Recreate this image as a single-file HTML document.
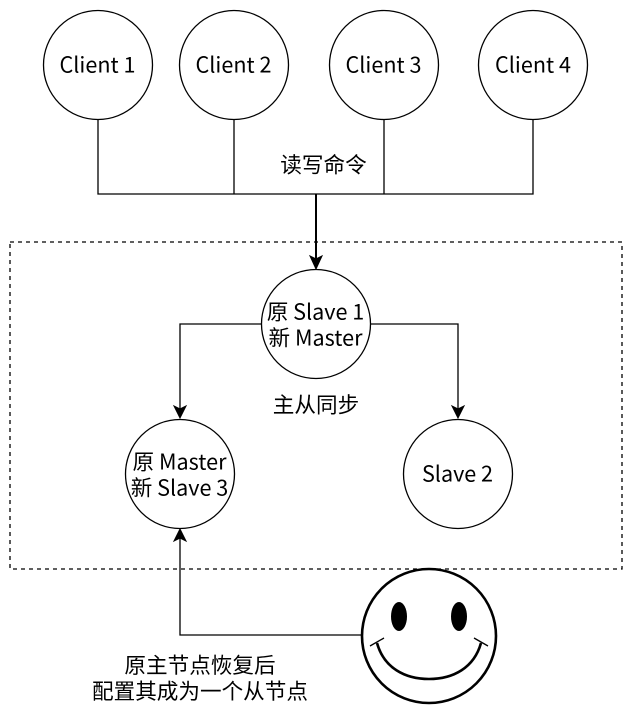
<!DOCTYPE html>
<html>
<head>
<meta charset="utf-8">
<style>
html,body{margin:0;padding:0;background:#fff;width:636px;height:714px;overflow:hidden}
svg{display:block}
text{font-family:"Noto Sans CJK SC","Liberation Sans",sans-serif;font-size:21.6px;fill:#000;text-anchor:middle}
</style>
</head>
<body>
<svg width="636" height="714" viewBox="0 0 636 714" xmlns="http://www.w3.org/2000/svg">
<rect x="10" y="242" width="612" height="327" fill="#fff" stroke="#000" stroke-width="1.3" stroke-dasharray="4 4"/>
<g fill="none" stroke="#000" stroke-width="1.3">
<path d="M98 119V194H533V119"/>
<path d="M234 119V194"/>
<path d="M384 119V194"/>
<path d="M316 194V262" stroke-width="2"/>
<path d="M262 324H180V410"/>
<path d="M370 324H458V410"/>
<path d="M362 635H180V537"/>
</g>
<g fill="#000" stroke="#000">
<path d="M316 269L310 256L316 259L322 256Z"/>
<path d="M180 418L174 406L180 409L186 406Z"/>
<path d="M458 418L452 406L458 409L464 406Z"/>
<path d="M180 529L174 541L180 538L186 541Z"/>
</g>
<g fill="#fff" stroke="#000" stroke-width="1.3">
<circle cx="98" cy="65" r="54.5"/>
<circle cx="234" cy="65" r="54.5"/>
<circle cx="384" cy="65" r="54.5"/>
<circle cx="533" cy="65" r="54.5"/>
<circle cx="316" cy="324" r="54.5"/>
<circle cx="180" cy="474" r="54.5"/>
<circle cx="458" cy="474" r="54.5"/>
</g>
<circle cx="429" cy="636" r="67" fill="#fff" stroke="#000" stroke-width="2.6"/>
<ellipse cx="399" cy="616.500" rx="8" ry="14.500" fill="#000"/>
<ellipse cx="459" cy="616.500" rx="8" ry="14.500" fill="#000"/>
<path d="M377 643C384 668 405 679 429 679C453 679 474 668 481 643" fill="none" stroke="#000" stroke-width="2.6"/>
<path d="M370 646L384 638M474 638L488 646" fill="none" stroke="#000" stroke-width="1.3"/>
<text x="97.500" y="72.500">Client 1</text>
<text x="233.500" y="72.500">Client 2</text>
<text x="383.500" y="72.500">Client 3</text>
<text x="533" y="72.500">Client 4</text>
<text x="315.500" y="319.500">原 Slave 1</text>
<text x="315.500" y="345.500">新 Master</text>
<text x="179.500" y="469.500">原 Master</text>
<text x="179.500" y="495.500">新 Slave 3</text>
<text x="457.500" y="481.500">Slave 2</text>
<text x="323.500" y="172.500">读写命令</text>
<text x="316" y="412.500">主从同步</text>
<text x="200" y="673">原主节点恢复后</text>
<text x="200" y="699">配置其成为一个从节点</text>
</svg>
</body>
</html>
